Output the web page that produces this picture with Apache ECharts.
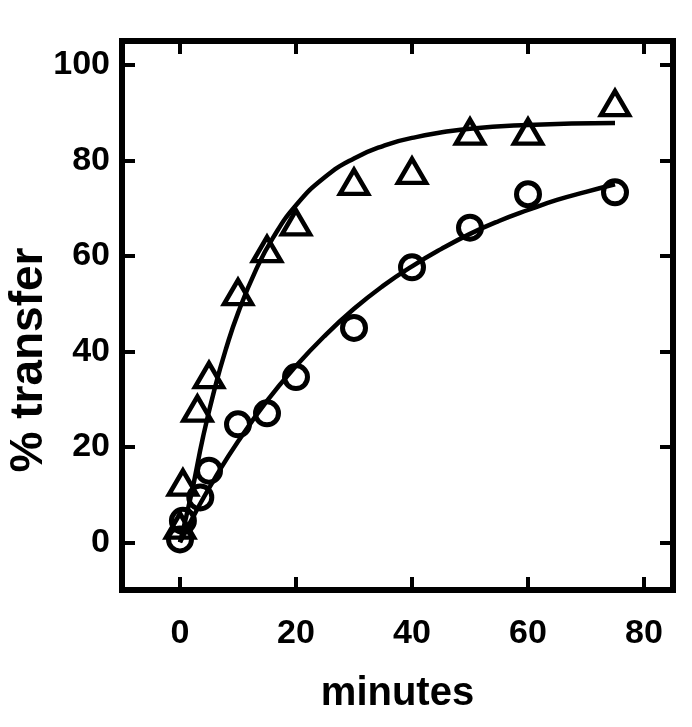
<!DOCTYPE html>
<html lang="en" style="height: 100%">
  <head>
    <meta charset="utf-8" />
  </head>
  <body style="height: 100%; margin: 0; background: #fff">
    <div id="container" style="width: 692px; height: 727px"></div>
    <script src="https://cdn.jsdelivr.net/npm/echarts@6/dist/echarts.min.js"></script>
    <script type="text/javascript">
      // measured points (minutes, % transfer)
      var triX = [0, 0.5, 3, 5, 10, 15, 20, 30, 40, 50, 60, 75];
      var triY = [3.5, 12.5, 28, 35, 52.4, 61.4, 67, 75.5, 77.8, 86, 86, 92];
      var circX = [0, 0.5, 3.5, 5, 10, 15, 20, 30, 40, 50, 60, 75];
      var circY = [0.6, 4.5, 9.4, 15, 24.7, 27, 34.6, 44.9, 57.6, 65.9, 72.9, 73.3];

      // fitted curves
      var triFitX = [0, 2, 4, 6, 8, 10, 13, 16, 20, 25, 30, 35, 40, 50, 60, 75];
      var triFitY = [0, 10.3, 22.2, 32.3, 40.8, 48, 56.8, 63.7, 70.6, 76.5, 80.4, 83, 84.7, 86.6, 87.4, 87.8];
      var circFitX = [0, 3, 6, 10, 15, 20, 25, 30, 35, 40, 45, 50, 55, 60, 65, 70, 75];
      var circFitY = [0, 7, 13.4, 21.1, 29.6, 36.9, 43.3, 48.9, 53.7, 57.8, 61.4, 64.6, 67.3, 69.6, 71.7, 73.4, 75];

      var xTicks = [0, 20, 40, 60, 80];
      var yTicks = [0, 20, 40, 60, 80, 100];

      function pairs(xs, ys) {
        var res = [];
        for (var i = 0; i < xs.length; i++) res.push([xs[i], ys[i]]);
        return res;
      }

      var font = "'Liberation Sans', Arial, sans-serif";
      var axisLine = { show: true, onZero: false, lineStyle: { color: "#000", width: 6, cap: "square" } };
      var tick = { show: true, inside: true, length: 13, lineStyle: { color: "#000", width: 4 } };
      var label = { color: "#000", fontSize: 34, fontWeight: "bold", fontFamily: font };

      var myChart = echarts.init(document.getElementById("container"), null, { renderer: "canvas" });

      var option = {
        animation: false,
        grid: { left: 122, right: 19, top: 41, bottom: 137 },
        xAxis: [
          {
            type: "value", position: "bottom", min: -10, max: 85,
            splitLine: { show: false }, axisLine: axisLine,
            axisTick: Object.assign({ customValues: xTicks }, tick),
            axisLabel: Object.assign({ customValues: xTicks, margin: 27 }, label),
            name: "minutes", nameLocation: "middle", nameGap: 84,
            nameTextStyle: { color: "#000", fontSize: 40, fontWeight: "bold", fontFamily: font },
          },
          {
            type: "value", position: "top", min: -10, max: 85,
            splitLine: { show: false }, axisLine: axisLine,
            axisTick: Object.assign({ customValues: xTicks }, tick),
            axisLabel: { show: false },
          },
        ],
        yAxis: [
          {
            type: "value", position: "left", min: -10, max: 105,
            splitLine: { show: false }, axisLine: axisLine,
            axisTick: Object.assign({ customValues: yTicks }, tick),
            axisLabel: Object.assign({ customValues: yTicks, margin: 12 }, label),
          },
          {
            type: "value", position: "right", min: -10, max: 105,
            splitLine: { show: false }, axisLine: axisLine,
            axisTick: Object.assign({ customValues: yTicks }, tick),
            axisLabel: { show: false },
          },
        ],
        graphic: [
          {
            type: "text", x: 6, y: 360, rotation: Math.PI / 2,
            style: {
              text: "% transfer", fill: "#000", align: "center", verticalAlign: "top",
              font: "bold 46px " + font,
            },
          },
        ],
        series: [
          {
            type: "line", data: pairs(triFitX, triFitY), smooth: true, showSymbol: false,
            lineStyle: { color: "#000", width: 4.5 }, z: 2,
          },
          {
            type: "line", data: pairs(circFitX, circFitY), smooth: true, showSymbol: false,
            lineStyle: { color: "#000", width: 4.5 }, z: 2,
          },
          {
            type: "scatter", data: pairs(triX, triY), symbol: "triangle", symbolSize: [28, 24],
            itemStyle: { color: "rgba(0,0,0,0)", borderColor: "#000", borderWidth: 4.5, opacity: 1 }, z: 3,
          },
          {
            type: "scatter", data: pairs(circX, circY), symbol: "circle", symbolSize: 23,
            itemStyle: { color: "rgba(0,0,0,0)", borderColor: "#000", borderWidth: 5, opacity: 1 }, z: 3,
          },
        ],
      };
      myChart.setOption(option);
    </script>
  </body>
</html>
